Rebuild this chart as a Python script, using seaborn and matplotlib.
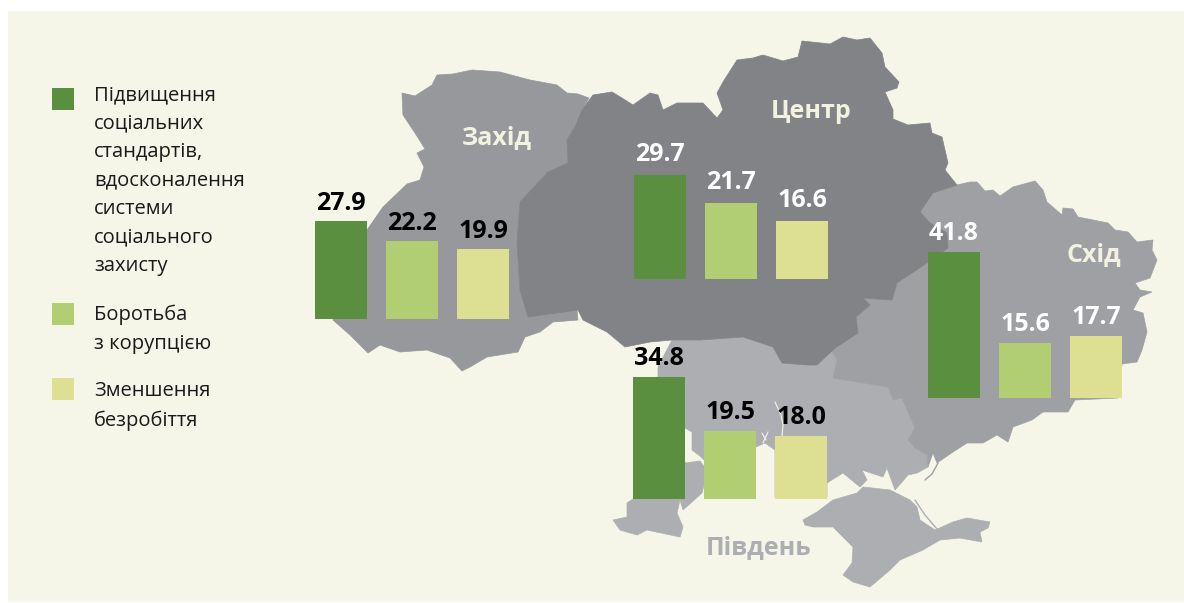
import seaborn as sns
import matplotlib.pyplot as plt
from matplotlib.patches import Polygon, Rectangle

#------------DATA-------------
categories = ["Підвищення соціальних стандартів", "Боротьба з корупцією", "Зменшення безробіття"]
zahid = [27.9, 22.2, 19.9]
tsentr = [29.7, 21.7, 16.6]
pivden = [34.8, 19.5, 18.0]
skhid = [41.8, 15.6, 17.7]

legend_labels = [
    "Підвищення\nсоціальних\nстандартів,\nвдосконалення\nсистеми\nсоціального\nзахисту",
    "Боротьба\nз корупцією",
    "Зменшення\nбезробіття",
]
region_names = ["Захід", "Центр", "Схід", "Південь"]

#------------STYLE-------------
colors = ["#5A8F3F", "#B1CE72", "#DDE093"]
W, H = 1184, 603
PX_PER_UNIT = 3.5

sns.set_theme(style="white")
plt.rcParams['font.family'] = ['Open Sans', 'DejaVu Sans']

#------------MAP OUTLINES (background picture, in image pixels)-------------
west_shape = [(402,93),(415,96),(432,85),(437,75),(453,74),(472,70),(500,72),(530,80),(557,85),(567,93),
    (578,94),(589,98),(582,110),(575,127),(567,140),(568,163),(548,172),(520,202),(517,243),(520,290),
    (528,317),(577,310),(578,320),(553,322),(540,332),(525,337),(518,352),(487,357),(470,367),(462,371),
    (450,358),(427,350),(400,352),(380,345),(368,353),(350,335),(333,320),(340,280),(367,230),(383,207),
    (407,184),(420,180),(424,167),(417,153),(425,149),(415,133),(403,115)]

center_shape = [(582,110),(593,95),(612,92),(622,98),(633,105),(650,93),(658,95),(663,110),(677,103),(703,103),
    (717,118),(723,110),(717,93),(723,82),(737,60),(753,58),(763,55),(783,61),(798,57),(802,41),
    (830,44),(843,37),(857,40),(870,38),(882,53),(885,67),(899,82),(897,88),(885,92),(893,110),
    (893,119),(908,125),(930,123),(932,133),(942,137),(948,163),(945,170),(957,185),(933,193),(920,212),
    (930,223),(947,233),(948,248),(927,263),(897,283),(892,300),(863,298),(870,305),(856,317),(858,333),
    (835,348),(817,365),(807,365),(782,363),(773,347),(743,337),(700,340),(672,340),(650,342),(625,347),
    (607,332),(583,320),(578,310),(528,317),(520,290),(517,243),(520,202),(548,172),(568,163),(567,140),
    (575,127)]

east_shape = [(957,185),(970,182),(977,182),(985,191),(993,190),(1000,196),(1013,187),(1035,181),(1043,190),(1047,202),
    (1062,215),(1063,208),(1073,209),(1078,217),(1108,223),(1115,230),(1128,232),(1137,242),(1153,240),(1152,250),
    (1157,260),(1150,278),(1135,283),(1140,290),(1152,292),(1140,297),(1133,310),(1143,313),(1147,332),(1142,350),
    (1137,362),(1122,364),(1118,398),(1075,400),(1068,412),(1043,412),(1032,420),(1013,427),(1008,442),(997,435),
    (983,443),(967,443),(953,452),(937,463),(933,453),(928,467),(927,455),(915,448),(908,440),(915,428),
    (902,398),(893,400),(888,387),(857,382),(833,378),(837,360),(830,348),(858,333),(856,317),(870,305),
    (863,298),(892,300),(897,283),(927,263),(948,248),(947,233),(930,223),(920,212),(933,193)]

south_shape = [(658,377),(658,367),(672,340),(700,340),(743,337),(773,347),(782,363),(807,365),(830,348),(837,360),
    (833,378),(857,382),(888,387),(893,400),(902,398),(915,428),(908,440),(915,448),(927,455),(928,467),
    (917,473),(908,475),(895,490),(887,468),(883,477),(862,470),(867,480),(860,487),(843,473),(827,483),
    (827,497),(775,497),(775,450),(765,443),(756,447),(704,460),(700,456),(692,450),(692,432),(685,428),
    (680,440),(685,463),(700,461),(705,468),(704,485),(702,493),(683,510),(680,500),(677,513),(683,527),
    (680,537),(647,530),(637,535),(620,530),(613,520),(627,517),(627,503),(633,499),(640,499),(640,380)]

crimea_shape = [(803,520),(817,512),(833,500),(857,493),(863,487),(890,490),(910,500),(917,507),(920,520),(935,530),
    (953,522),(967,518),(990,522),(988,528),(980,532),(982,542),(960,538),(940,540),(923,550),(900,560),
    (890,570),(870,587),(853,582),(843,575),(852,563),(853,547),(833,527),(813,527),(805,525)]

#------------FIGURE-------------
fig = plt.figure(figsize=(W / 100, H / 100), dpi=100, facecolor="white")
ax = fig.add_axes([0, 0, 1, 1])
ax.set_xlim(0, W)
ax.set_ylim(H, 0)
ax.axis("off")

ax.add_patch(Rectangle((8, 11), W - 8, 591, color="#F5F6E8", lw=0, zorder=0))

for shape, col in [(south_shape, "#ADAEB2"), (crimea_shape, "#ADAEB2"), (east_shape, "#9FA0A4"),
                   (west_shape, "#97989C"), (center_shape, "#828387")]:
    ax.add_patch(Polygon(shape, closed=True, facecolor=col, edgecolor=col, lw=0.5, zorder=1))

#thin spits and rivers
ax.plot([915, 925, 937], [500, 515, 529], color="#ADAEB2", lw=1, zorder=1)
ax.plot([938, 932, 925], [463, 474, 480], color="#9FA0A4", lw=1, zorder=1)
ax.plot([775, 781, 783, 782], [402, 415, 425, 436], color="#F5F6E8", lw=0.8, zorder=2)
ax.plot([768, 763], [432, 443], color="#F5F6E8", lw=0.8, zorder=2)
ax.plot([762, 766], [433, 440], color="#F5F6E8", lw=0.8, zorder=2)

#region names
ax.text(497, 138, region_names[0], color="#F2F2E0", fontsize=18, fontweight="bold", ha="center", va="center")
ax.text(811, 111, region_names[1], color="#F2F2E0", fontsize=18, fontweight="bold", ha="center", va="center")
ax.text(1094, 255, region_names[2], color="#F2F2E0", fontsize=18, fontweight="bold", ha="center", va="center")
ax.text(759, 548, region_names[3], color="#ADAEB2", fontsize=18, fontweight="bold", ha="center", va="center")

#legend
for y, text_y, col, label in zip([88, 303, 378], [85, 305, 381.5], colors, legend_labels):
    ax.add_patch(Rectangle((52, y), 22, 22, color=col, lw=0, zorder=2))
    ax.text(94, text_y, label, color="#1A1A1A", fontsize=14.5, va="top", ha="left", linespacing=1.57)


#bars: one small seaborn axes for each region
def region_bars(values, left, base, label_color, pad):
    slot = 71
    top = 175
    bar_ax = fig.add_axes([(left - 9.5) / W, 1 - base / H, 3 * slot / W, top / H])
    sns.barplot(x=categories, y=values, hue=categories, palette=colors, saturation=1,
                width=52 / slot, linewidth=0, legend=False, ax=bar_ax)
    bar_ax.set_ylim(0, top / PX_PER_UNIT)
    bar_ax.set_xlim(-0.5, 2.5)
    bar_ax.axis("off")
    bar_ax.patch.set_alpha(0)
    for c in bar_ax.containers:
        bar_ax.bar_label(c, fmt="%.1f", padding=pad, color=label_color,
                         fontsize=18, fontweight="bold")


region_bars(zahid, 315, 319, "black", 3.5)
region_bars(tsentr, 634, 279, "white", 6)
region_bars(pivden, 633, 499, "black", 4.3)
region_bars(skhid, 928, 398, "white", 4.3)

plt.savefig("out.png", dpi=100)
